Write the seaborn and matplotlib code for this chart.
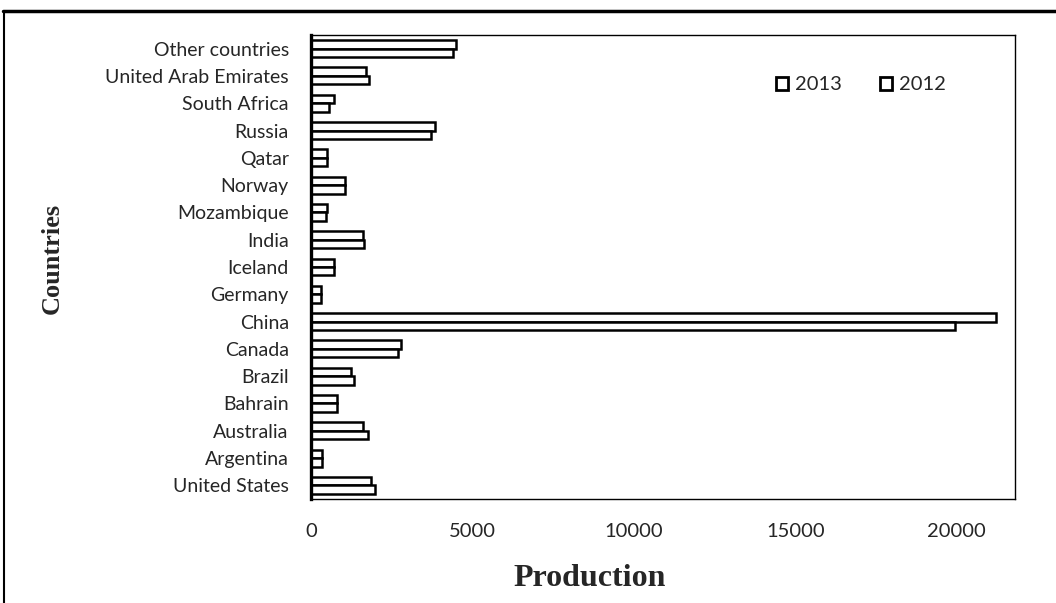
import numpy as np
import pandas as pd
import matplotlib
matplotlib.use("Agg")
import matplotlib.pyplot as plt
import seaborn as sns
from matplotlib.patches import Patch

# %%
countries = ["Other countries", "United Arab Emirates", "South Africa", "Russia", "Qatar",
             "Norway", "Mozambique", "India", "Iceland", "Germany", "China", "Canada",
             "Brazil", "Bahrain", "Australia", "Argentina", "United States"]
prod_2013 = [4500, 1700, 700, 3850, 500, 1050, 480, 1600, 700, 300, 21200, 2800,
             1240, 810, 1610, 340, 1860]
prod_2012 = [4400, 1800, 560, 3720, 500, 1050, 470, 1650, 700, 300, 19950, 2680,
             1330, 810, 1770, 340, 1980]
years = ["2013", "2012"]
xticks = [0, 5000, 10000, 15000, 20000]

df = pd.DataFrame({
    "country": countries * 2,
    "year": ["2013"] * len(countries) + ["2012"] * len(countries),
    "production": prod_2013 + prod_2012,
})

# %%
sns.set_style("white")
plt.rcParams["font.family"] = ["Lato", "DejaVu Sans"]

fig = plt.figure(figsize = (10.56, 6.03), dpi = 100)
ax = fig.add_axes([311 / 1056, 1 - 499 / 603, (1015 - 311) / 1056, (499 - 35) / 603])

sns.barplot(data = df, y = "country", x = "production", hue = "year",
            order = countries, hue_order = years, orient = "h",
            palette = ["white", "white"], edgecolor = "black", linewidth = 1.8,
            width = 0.62, dodge = True, legend = False, ax = ax)

ax.set_xlim(0, 21800)
ax.set_xticks(xticks)
ax.set_xticklabels([str(t) for t in xticks], fontsize = 14.5)
ax.tick_params(axis = "both", length = 0)
ax.tick_params(axis = "x", pad = 17)
ax.tick_params(axis = "y", pad = 16)
for lab in ax.get_yticklabels():
    lab.set_fontsize(14)
ax.set_ylabel("")
ax.set_xlabel("")

for s in ax.spines.values():
    s.set_linewidth(1.0)
    s.set_color("black")
ax.spines["left"].set_linewidth(2.4)

handles = [Patch(facecolor = "white", edgecolor = "black", linewidth = 2, label = y) for y in years]
ax.legend(handles = handles, loc = "center left", bbox_to_anchor = ((776 - 311) / 704, (499 - 85) / 464),
          ncol = 2, frameon = False, handlelength = 0.6, handleheight = 0.6, handletextpad = 0.35,
          columnspacing = 1.9, fontsize = 14.5, borderaxespad = 0, borderpad = 0)

fig.text(52 / 1056, 1 - 258 / 603, "Countries", rotation = 90, ha = "center", va = "center",
         fontsize = 19, fontweight = "bold", family = "Liberation Serif")
fig.text(590 / 1056, 1 - 578 / 603, "Production", ha = "center", va = "center",
         fontsize = 23, fontweight = "bold", family = "Liberation Serif")

# outer frame: top and left lines
fig.add_artist(plt.Line2D([3 / 1056, 1], [1 - 11 / 603, 1 - 11 / 603], color = "black", linewidth = 2.5))
fig.add_artist(plt.Line2D([4 / 1056, 4 / 1056], [0, 1 - 11 / 603], color = "black", linewidth = 1.5))

fig.savefig("out.png", dpi = 100)
